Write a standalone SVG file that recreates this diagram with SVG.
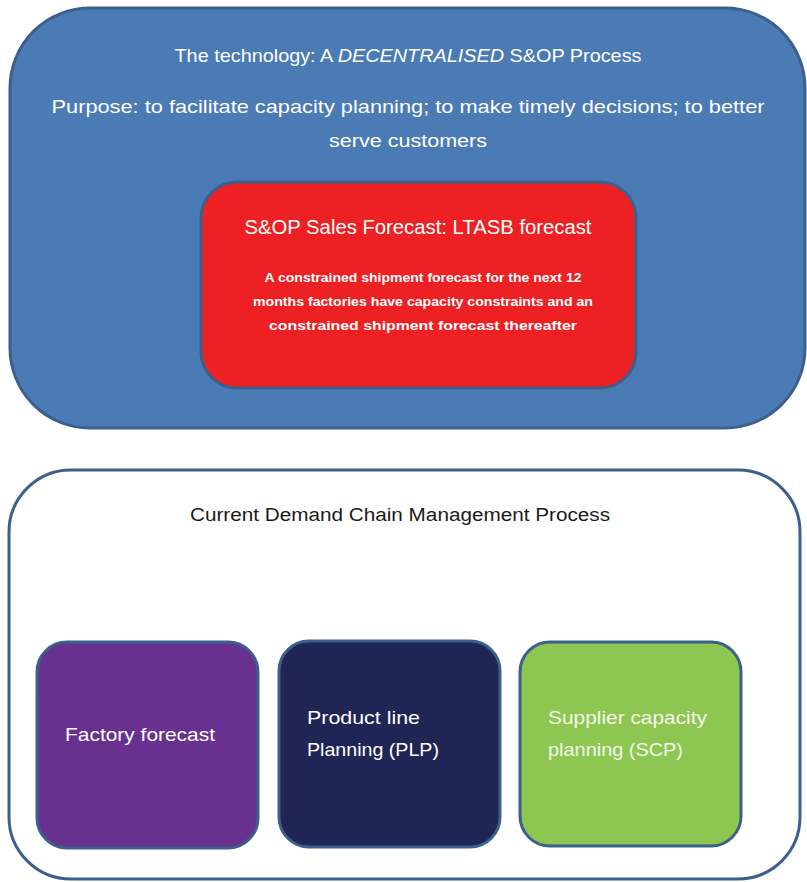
<svg xmlns="http://www.w3.org/2000/svg" width="807" height="882" viewBox="0 0 807 882">
<style>
text{font-family:"Liberation Sans",Arial,sans-serif;}
.w{fill:#ffffff;}
.frame{stroke:#3d5f8c;stroke-width:3;}
.inner{stroke:#3d5f8c;stroke-width:3;}
</style>
<rect width="807" height="882" fill="#ffffff"/>
<g id="technology">
<rect class="frame" x="10" y="8" width="795" height="420" rx="80" ry="80" fill="#4b7bb5"/>
<text class="w" x="408" y="62" font-size="19" text-anchor="middle" textLength="467" lengthAdjust="spacingAndGlyphs">The technology: A <tspan font-style="italic">DECENTRALISED</tspan> S&amp;OP Process</text>
<text class="w" x="408" y="113" font-size="19" text-anchor="middle" textLength="713" lengthAdjust="spacingAndGlyphs">Purpose: to facilitate capacity planning; to make timely decisions; to better</text>
<text class="w" x="408" y="147" font-size="19" text-anchor="middle" textLength="158" lengthAdjust="spacingAndGlyphs">serve customers</text>
</g>
<g id="sop-forecast">
<rect class="inner" x="201" y="182" width="435" height="206" rx="36" ry="36" fill="#ed2024"/>
<text class="w" x="418" y="234" font-size="20" text-anchor="middle" textLength="347" lengthAdjust="spacingAndGlyphs">S&amp;OP Sales Forecast: LTASB forecast</text>
<text class="w" x="423" y="282" font-size="13" font-weight="bold" text-anchor="middle" textLength="317" lengthAdjust="spacingAndGlyphs">A constrained shipment forecast for the next 12</text>
<text class="w" x="423" y="306" font-size="13" font-weight="bold" text-anchor="middle" textLength="340" lengthAdjust="spacingAndGlyphs">months factories have capacity constraints and an</text>
<text class="w" x="423" y="330" font-size="13" font-weight="bold" text-anchor="middle" textLength="308" lengthAdjust="spacingAndGlyphs">constrained shipment forecast thereafter</text>
</g>
<g id="demand-chain">
<rect class="frame" x="9" y="470" width="791" height="409" rx="62" ry="62" fill="#ffffff"/>
<text x="400" y="521" font-size="18" fill="#1a1a1a" text-anchor="middle" textLength="420" lengthAdjust="spacingAndGlyphs">Current Demand Chain Management Process</text>
</g>
<g id="factory-forecast">
<rect class="inner" x="37" y="642" width="221" height="206" rx="30" ry="30" fill="#68318f"/>
<text class="w" x="65" y="741" font-size="19" textLength="150" lengthAdjust="spacingAndGlyphs">Factory forecast</text>
</g>
<g id="plp">
<rect class="inner" x="279" y="641" width="221" height="206" rx="30" ry="30" fill="#1f2555"/>
<text class="w" x="307" y="724" font-size="19" textLength="113" lengthAdjust="spacingAndGlyphs">Product line</text>
<text class="w" x="307" y="756" font-size="19" textLength="132" lengthAdjust="spacingAndGlyphs">Planning (PLP)</text>
</g>
<g id="scp">
<rect class="inner" x="520" y="642" width="221" height="204" rx="30" ry="30" fill="#8dc752"/>
<text x="548" y="724" font-size="19" fill="#f4f6ea" textLength="159" lengthAdjust="spacingAndGlyphs">Supplier capacity</text>
<text x="548" y="756" font-size="19" fill="#f4f6ea" textLength="135" lengthAdjust="spacingAndGlyphs">planning (SCP)</text>
</g>
<g id="connectors"></g>
</svg>
